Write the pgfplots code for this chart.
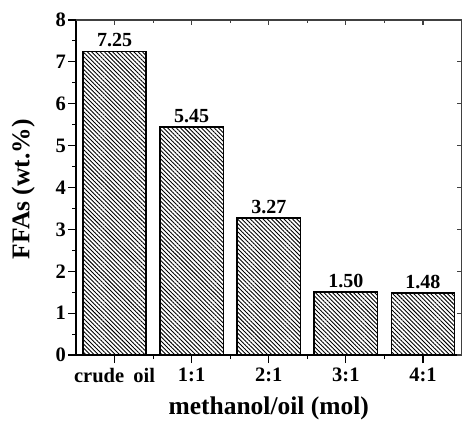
\documentclass[border=0pt]{standalone}
\usepackage{fontspec}
\setmainfont{Liberation Serif}
\usepackage{pgfplots}
\pgfplotsset{compat=1.18}
\usetikzlibrary{patterns.meta}

\begin{document}
\begin{tikzpicture}
\begin{axis}[
    scale only axis, width=385.5bp, height=335bp,
    xmin=-0.5, xmax=4.5, ymin=0, ymax=8,
    axis x line*=bottom, axis y line*=left,
    axis line style={line width=1.3bp, black},
    tick align=outside,
    major tick length=8bp, minor tick length=4bp,
    every tick/.style={line width=1.1bp, black},
    xtick={0,1,2,3,4},
    minor xtick={0.5,1.5,2.5,3.5},
    xticklabels={crude\hspace{0.45em}oil, 1:1, 2:1, 3:1, 4:1},
    ytick={0,1,...,8},
    minor ytick={0.5,1.5,...,7.5},
    /pgf/number format/assume math mode=true,
    ticklabel style={font=\fontsize{20.5bp}{23bp}\selectfont\bfseries},
    yticklabel style={inner sep=2bp},
    xticklabel style={yshift=-1.5bp},
    xlabel={methanol/oil (mol)},
    ylabel={FFAs (wt.\%)},
    xlabel style={font=\fontsize{25.5bp}{28bp}\selectfont\bfseries, at={(axis description cs:0.5,-0.158)}, anchor=center},
    ylabel style={font=\fontsize{25.5bp}{28bp}\selectfont\bfseries, at={(axis description cs:-0.137,0.495)}, anchor=center},
    ybar, bar width=0.82, bar shift=0pt,
    point meta=explicit symbolic,
    nodes near coords={\pgfplotspointmeta},
    nodes near coords style={font=\fontsize{20bp}{22bp}\selectfont\bfseries, inner sep=3.5bp},
    clip=false,
]
\addplot[draw=black, line width=1.5bp, pattern={Lines[angle=-45, distance=3pt, line width=0.9pt]}, pattern color=black]
coordinates {
    (0,7.25) [7.25]
    (1,5.45) [5.45]
    (2,3.27) [3.27]
    (3,1.50) [1.50]
    (4,1.48) [1.48]
};
\coordinate (sw) at (rel axis cs:0,0);
\coordinate (ne) at (rel axis cs:1,1);
\end{axis}
\begin{axis}[
    scale only axis, width=385.5bp, height=335bp,
    xmin=-0.5, xmax=4.5, ymin=0, ymax=8,
    axis x line*=top, axis y line*=right,
    axis line style={line width=1.3bp, black!75},
    tick align=inside,
    major tick length=5bp, minor tick length=3bp,
    every tick/.style={line width=1.1bp, black!75},
    xtick={0,1,2,3,4}, minor xtick={0.5,1.5,2.5,3.5},
    ytick={0,1,...,8},
    xticklabels={}, yticklabels={},
]
\end{axis}
\pgfresetboundingbox
\path ([shift={(-76bp,-66bp)}]sw) rectangle ([shift={(0.5bp,20bp)}]ne);
\end{tikzpicture}
\end{document}
